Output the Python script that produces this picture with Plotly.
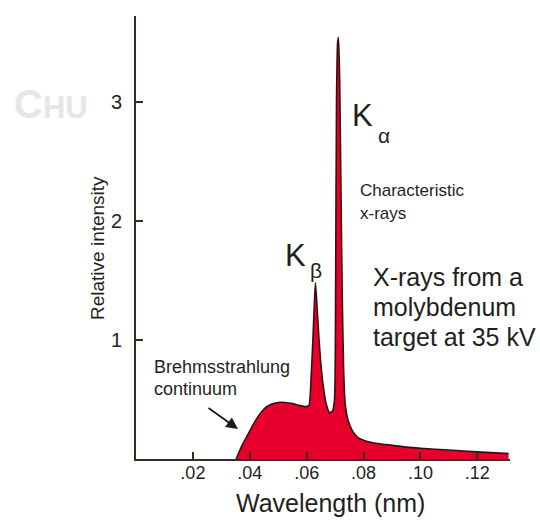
import plotly.graph_objects as go

# ---- data ----
wavelength_nm = [0.0352, 0.0370, 0.0390, 0.0410, 0.0430, 0.0450, 0.0475, 0.0500,
                 0.0525, 0.0550, 0.0575, 0.0595, 0.0608, 0.0616, 0.0622, 0.0627,
                 0.0631, 0.0636, 0.0643, 0.0650, 0.0658, 0.0668, 0.0680, 0.0690,
                 0.0698, 0.0702, 0.0705, 0.0709, 0.0712, 0.0716, 0.0720, 0.0725,
                 0.0730, 0.0736, 0.0745, 0.0760, 0.0780, 0.0810, 0.0850, 0.0900,
                 0.0950, 0.1000, 0.1100, 0.1200, 0.1310]
relative_intensity = [0.00, 0.10, 0.19, 0.28, 0.36, 0.42, 0.46, 0.475,
                      0.475, 0.465, 0.45, 0.44, 0.45, 0.70, 1.00, 1.30,
                      1.48, 1.30, 1.02, 0.80, 0.62, 0.47, 0.39, 0.40,
                      0.50, 1.50, 3.00, 3.50, 3.54, 3.20, 2.40, 1.40,
                      0.75, 0.45, 0.33, 0.24, 0.18, 0.15, 0.13, 0.115,
                      0.10, 0.09, 0.075, 0.06, 0.045]

x_tick_vals = [0.02, 0.04, 0.06, 0.08, 0.10, 0.12]
x_tick_text = [".02", ".04", ".06", ".08", ".10", ".12"]
y_tick_vals = [1, 2, 3]
y_tick_text = ["1", "2", "3"]

X_RANGE = [0, 0.1315]
Y_RANGE = [0, 3.72]

W, H = 540, 521
ML, MR, MT, MB = 136, 30, 16, 62

FONT = "Liberation Sans, Arial, Helvetica, sans-serif"
TXT = "#231f20"
AXC = "#3b2b22"


def paper(xp, yp):
    """convert a pixel position to paper coordinates (for text placement)"""
    pw = W - ML - MR
    ph = H - MT - MB
    return (xp - ML) / pw, ((H - MB) - yp) / ph


fig = go.Figure()
fig.add_trace(go.Scatter(
    x=wavelength_nm, y=relative_intensity, mode="lines",
    fill="tozeroy", fillcolor="#e6002b",
    line=dict(color="#3a0d10", width=1.6, shape="spline", smoothing=0.5),
    hoverinfo="skip", showlegend=False))

ann = []


def text(s, xp, yp, size, xanchor="center", color=TXT, angle=0, family=FONT):
    x, y = paper(xp, yp)
    ann.append(dict(x=x, y=y, xref="paper", yref="paper", text=s, showarrow=False,
                    xanchor=xanchor, yanchor="middle", textangle=angle,
                    font=dict(family=family, size=size, color=color)))


# faint watermark
text("<b>C<span style='font-size:31px'>HU</span></b>", 12, 104, 40, xanchor="left",
     color="#e6e6e6", family="Liberation Sans Narrow, Liberation Sans, sans-serif")

# peak labels
text("K", 362, 116, 31)
text("α", 384, 135, 21)
text("K", 295, 256, 31)
text("β", 316, 270, 21)

text("Characteristic", 358, 190, 17, xanchor="left")
text("x-rays", 358, 213, 17, xanchor="left")

text("X-rays from a", 371, 277, 25, xanchor="left")
text("molybdenum", 371, 307, 25, xanchor="left")
text("target at 35 kV", 371, 337, 25, xanchor="left")

text("Brehmsstrahlung", 152, 367, 18, xanchor="left")
text("continuum", 152, 389, 18, xanchor="left")

# arrow
hx, hy = paper(238, 429)
ann.append(dict(x=hx, y=hy, ax=-31, ay=-22, xref="paper", yref="paper",
                showarrow=True, arrowhead=2, arrowsize=1.3, arrowwidth=1.8,
                arrowcolor="#1a1a1a", text=""))

# axis titles
text("Wavelength (nm)", 330, 503, 25)
text("Relative intensity", 97, 248, 19, angle=-90)

fig.update_layout(
    width=W, height=H,
    margin=dict(l=ML, r=MR, t=MT, b=MB),
    paper_bgcolor="white", plot_bgcolor="white",
    annotations=ann,
    xaxis=dict(range=X_RANGE, showgrid=False, zeroline=False, showline=True,
               linecolor=AXC, linewidth=2, ticks="inside", ticklen=7, tickwidth=1.5,
               tickcolor=AXC, tickvals=x_tick_vals, ticktext=x_tick_text,
               tickfont=dict(family=FONT, size=18, color=TXT), ticklabelstandoff=-4),
    yaxis=dict(range=Y_RANGE, showgrid=False, zeroline=False, showline=True,
               linecolor=AXC, linewidth=2, ticks="inside", ticklen=7, tickwidth=1.5,
               tickcolor=AXC, tickvals=y_tick_vals, ticktext=y_tick_text,
               tickfont=dict(family=FONT, size=20, color=TXT), ticklabelstandoff=8),
)

fig.write_html("out.html")
